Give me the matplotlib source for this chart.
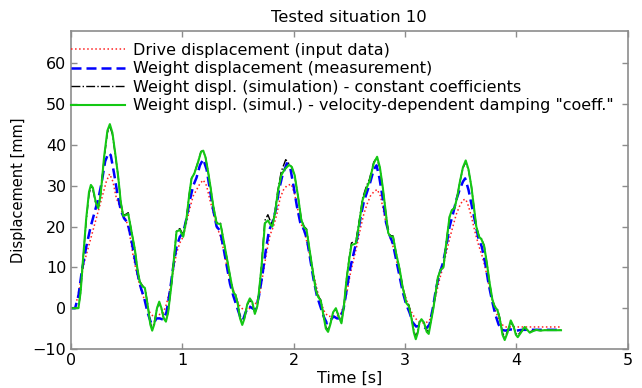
"""Displacement time histories for tested situation 10."""

import matplotlib

matplotlib.use("Agg")
import matplotlib.pyplot as plt  # noqa: E402

_AXIS = "#8c8c8c"

# drive displacement (input data)
t_drive = [0.00, 0.04, 0.08, 0.12, 0.16, 0.20, 0.24, 0.28, 0.32, 0.35, 0.38, 0.41, 0.44, 0.47,
           0.50, 0.53, 0.56, 0.59, 0.62, 0.65, 0.68, 0.71, 0.74, 0.77, 0.80, 0.83, 0.86, 0.89,
           0.92, 0.95, 0.98, 1.01, 1.04, 1.07, 1.10, 1.13, 1.16, 1.19, 1.22, 1.25, 1.28, 1.31,
           1.34, 1.37, 1.40, 1.43, 1.46, 1.49, 1.52, 1.55, 1.58, 1.61, 1.64, 1.67, 1.70, 1.73,
           1.76, 1.79, 1.82, 1.85, 1.88, 1.91, 1.94, 1.98, 2.01, 2.04, 2.07, 2.10, 2.13, 2.16,
           2.19, 2.22, 2.25, 2.28, 2.31, 2.34, 2.38, 2.42, 2.45, 2.48, 2.51, 2.54, 2.57, 2.60,
           2.63, 2.66, 2.69, 2.72, 2.75, 2.78, 2.81, 2.84, 2.87, 2.90, 2.93, 2.96, 2.99, 3.02,
           3.05, 3.08, 3.11, 3.14, 3.18, 3.22, 3.25, 3.28, 3.31, 3.34, 3.37, 3.40, 3.43, 3.46,
           3.49, 3.52, 3.545, 3.57, 3.60, 3.63, 3.66, 3.69, 3.72, 3.75, 3.78, 3.81, 3.84, 3.87,
           3.90, 4.40]
y_drive = [0, 0, 5, 11, 15, 19, 23, 27, 31, 32.9, 31, 27, 25, 23,
           21.5, 18, 13, 9, 5.5, 3, 1, -1, -2, -2, -1.5, -1.2, 1, 4.5,
           9, 13.5, 16, 17.5, 21, 24.5, 27.5, 29, 30.5, 31.4, 30, 26.5, 23.5, 20,
           18, 14.6, 10.5, 7, 4.5, 2, 0.5, -0.4, -0.4, 0, 0.5, 1.5, 4, 9,
           14, 18, 20, 23, 27, 29, 30, 30.4, 28, 24, 20.5, 18.5, 15, 11,
           7, 3.5, 1, -1, -2, -2, -2.1, -1.5, 0.5, 4, 8.5, 12, 15.5, 19.5,
           23, 25.5, 27.5, 28.5, 29.1, 27.5, 23.5, 19.5, 17, 14.5, 11, 7.5, 4, 1.5,
           -0.5, -2, -3, -3.5, -3.7, -3, 0, 3.5, 7, 10, 13.5, 17, 20, 23,
           25, 26.5, 26.7, 25, 22, 18.5, 15.5, 13, 10, 6, 2.5, -0.5, -2.5, -4,
           -4.6, -4.6]

# weight displacement (measurement)
t_meas = [0.00, 0.04, 0.07, 0.10, 0.14, 0.18, 0.22, 0.25, 0.28, 0.31, 0.34, 0.36, 0.39, 0.42,
          0.45, 0.48, 0.51, 0.54, 0.57, 0.60, 0.63, 0.66, 0.69, 0.72, 0.745, 0.77, 0.80, 0.83,
          0.86, 0.89, 0.92, 0.95, 0.98, 1.01, 1.04, 1.07, 1.10, 1.13, 1.16, 1.19, 1.22, 1.25,
          1.28, 1.31, 1.34, 1.37, 1.40, 1.43, 1.46, 1.49, 1.52, 1.545, 1.57, 1.60, 1.63, 1.66,
          1.69, 1.72, 1.75, 1.78, 1.81, 1.84, 1.87, 1.90, 1.94, 1.97, 2.00, 2.03, 2.06, 2.09,
          2.12, 2.15, 2.18, 2.21, 2.24, 2.27, 2.30, 2.33, 2.36, 2.39, 2.42, 2.45, 2.48, 2.51,
          2.54, 2.57, 2.60, 2.63, 2.66, 2.69, 2.72, 2.745, 2.77, 2.80, 2.83, 2.86, 2.89, 2.92,
          2.95, 2.98, 3.01, 3.04, 3.07, 3.10, 3.13, 3.16, 3.19, 3.22, 3.25, 3.28, 3.31, 3.34,
          3.37, 3.40, 3.43, 3.46, 3.49, 3.52, 3.54, 3.57, 3.60, 3.63, 3.66, 3.69, 3.72, 3.75,
          3.78, 3.81, 3.84, 3.87, 3.90, 3.95, 4.00, 4.05, 4.10, 4.40]
y_meas = [0, 0, 3, 9, 15, 20, 24, 27, 31, 36, 38, 37.5, 33, 28,
          24, 22, 21, 17.5, 13, 8.5, 5, 2.5, -1, -3.5, -3.8, -2.5, -2.5, -2.8,
          -1, 4, 10, 15, 17.5, 18.5, 22, 26.5, 30, 32, 35, 36.5, 34, 29,
          24, 20, 19, 15, 10.5, 6, 3, 0.5, -2, -3, -1, 0.5, 0, -0.5,
          3, 8, 14, 19, 21, 24, 29, 32.5, 35.5, 34.5, 30, 25, 21, 19.5,
          17, 12, 7, 3, 0.5, -2, -3.7, -3, -2, -2.5, -2.5, 0, 5, 10,
          13.5, 17, 22, 26, 28.5, 31, 34, 35, 32, 27, 21, 18, 16, 12,
          8, 4, 1, -1, -3.5, -4.5, -4.3, -4.5, -5, -4, 0, 5, 8.5, 11,
          15, 20, 23, 26.5, 29, 31, 31.8, 29, 25, 21, 17, 15, 11, 6,
          2, -1.5, -4, -5.3, -5.5, -5.2, -5.5, -5.3, -5.3, -5.3]

# weight displacement, simulation with constant coefficients
t_const = [0.00, 0.07, 0.09, 0.113, 0.14, 0.165, 0.182, 0.20, 0.225, 0.248, 0.27, 0.30, 0.33,
           0.352, 0.375, 0.40, 0.427, 0.45, 0.472, 0.495, 0.517, 0.545, 0.577, 0.60, 0.62,
           0.645, 0.666, 0.69, 0.715, 0.732, 0.75, 0.775, 0.795, 0.815, 0.835, 0.855, 0.875,
           0.906, 0.93, 0.95, 0.98, 1.01, 1.04, 1.065, 1.085, 1.11, 1.14, 1.17, 1.19, 1.21,
           1.23, 1.25, 1.28, 1.31, 1.345, 1.37, 1.40, 1.43, 1.458, 1.48, 1.50, 1.52, 1.54,
           1.56, 1.585, 1.608, 1.63, 1.653, 1.675, 1.69, 1.713, 1.73, 1.743, 1.77, 1.79, 1.81,
           1.835, 1.86, 1.89, 1.93, 1.96, 1.985, 2.01, 2.04, 2.07, 2.095, 2.117, 2.14, 2.176,
           2.20, 2.22, 2.245, 2.27, 2.29, 2.31, 2.33, 2.355, 2.38, 2.405, 2.43, 2.45, 2.475,
           2.50, 2.52, 2.545, 2.56, 2.59, 2.62, 2.655, 2.68, 2.72, 2.745, 2.775, 2.80, 2.825,
           2.85, 2.87, 2.893, 2.92, 2.953, 2.98, 3.013, 3.035, 3.055, 3.08, 3.097, 3.115, 3.13,
           3.148, 3.17, 3.195, 3.213, 3.235, 3.255, 3.27, 3.295, 3.32, 3.345, 3.37, 3.40, 3.42,
           3.445, 3.47, 3.49, 3.52, 3.545, 3.57, 3.596, 3.62, 3.64, 3.665, 3.686, 3.71, 3.735,
           3.76, 3.785, 3.805, 3.83, 3.85, 3.875, 3.895, 3.92, 3.949, 3.975, 3.995, 4.012,
           4.04, 4.074, 4.10, 4.12, 4.15, 4.18, 4.21, 4.25, 4.40]
y_const = [0, 0, 4, 12.4, 21.5, 28, 29.6, 29, 25.8, 24.6, 28, 36.5, 43,
           44.6, 42.6, 37.8, 32.2, 26, 22.8, 23, 23.4, 19, 14.3, 9.5, 6.6,
           5.5, 5.1, 1.2, -3.6, -5, -3.6, 0, 1.3, -0.2, -2.4, -3.1, -1,
           6.1, 13, 18.9, 19.5, 18, 22.2, 28, 31.8, 33, 35.6, 38.4, 38.6, 37,
           34, 30.6, 25, 21, 20.8, 17, 12.6, 8, 4.2, 3.4, 1.2, -2.2, -3.7,
           -2.3, 0.8, 2, 1.2, -1.2, 0.6, 4, 10.6, 17, 21.5, 22.9, 21.5, 20.4,
           24, 29, 33.5, 36.4, 35.4, 34.5, 32.4, 27.5, 21.8, 20, 19.4, 15, 8.6,
           4.8, 3, 2, -1.8, -4.6, -5.4, -3.8, -1, -0.3, -1.8, -3.4, 0, 7,
           12.4, 16, 16.3, 16.4, 21.5, 27, 30, 31.5, 35.8, 36.8, 34.4, 29.6, 24,
           18.6, 17.8, 17.7, 13.6, 9.5, 5.2, 1.6, 0.8, -1.8, -5.6, -7, -5.6, -3.4,
           -2.9, -3.5, -5.4, -5.8, -2.8, 0.2, 2.8, 7.5, 9.5, 10.2, 16, 22.4, 24,
           24.6, 27.5, 30.6, 34.3, 35.8, 33.8, 29.8, 24.5, 20, 17.6, 17, 15.4, 11,
           6.1, 2, 0.5, -0.3, -2.3, -6, -7.2, -5.7, -3.4, -4.6, -6.2, -6.6,
           -5.8, -4.9, -5.4, -5.8, -5.5, -5.3, -5.5, -5.4, -5.4]

# weight displacement, simulation with velocity-dependent damping coefficient
t_vel = [0.00, 0.07, 0.09, 0.113, 0.14, 0.165, 0.182, 0.20, 0.225, 0.248, 0.27, 0.30, 0.33,
         0.352, 0.375, 0.40, 0.427, 0.45, 0.472, 0.495, 0.517, 0.545, 0.577, 0.60, 0.62,
         0.645, 0.666, 0.69, 0.715, 0.732, 0.75, 0.775, 0.795, 0.815, 0.835, 0.855, 0.875,
         0.906, 0.93, 0.95, 0.98, 1.01, 1.04, 1.065, 1.085, 1.11, 1.14, 1.17, 1.19, 1.21,
         1.23, 1.25, 1.28, 1.31, 1.345, 1.37, 1.40, 1.43, 1.458, 1.48, 1.50, 1.52, 1.54,
         1.56, 1.585, 1.608, 1.63, 1.653, 1.675, 1.69, 1.713, 1.73, 1.743, 1.77, 1.79, 1.81,
         1.835, 1.86, 1.89, 1.92, 1.96, 1.985, 2.01, 2.04, 2.07, 2.095, 2.117, 2.14, 2.176,
         2.20, 2.22, 2.245, 2.27, 2.29, 2.31, 2.33, 2.355, 2.38, 2.405, 2.43, 2.45, 2.475,
         2.50, 2.52, 2.545, 2.56, 2.59, 2.62, 2.655, 2.68, 2.72, 2.75, 2.775, 2.80, 2.825,
         2.85, 2.87, 2.893, 2.92, 2.953, 2.98, 3.013, 3.035, 3.055, 3.08, 3.097, 3.115, 3.13,
         3.148, 3.17, 3.195, 3.213, 3.235, 3.255, 3.27, 3.295, 3.32, 3.345, 3.37, 3.40, 3.42,
         3.445, 3.47, 3.49, 3.52, 3.545, 3.57, 3.596, 3.62, 3.64, 3.665, 3.686, 3.71, 3.735,
         3.76, 3.785, 3.805, 3.83, 3.85, 3.875, 3.895, 3.92, 3.949, 3.975, 3.995, 4.012,
         4.04, 4.074, 4.10, 4.12, 4.15, 4.18, 4.21, 4.25, 4.40]
y_vel = [0, 0, 4, 12.6, 22, 28.5, 30.2, 29.5, 26, 24.5, 28, 37, 43.5,
         45.1, 43, 38, 32.2, 26, 22.6, 22.8, 23.1, 19, 14.3, 9.5, 6.5,
         5.3, 5.0, 1, -4, -5.5, -4, 0, 1.6, 0, -2.5, -3.3, -1,
         6.1, 13, 18.75, 19.2, 17.5, 22, 28, 31.8, 33, 35.5, 38.3, 38.6, 37,
         34, 30.6, 25, 20.8, 20.6, 17, 12.6, 8, 4.0, 3.2, 1, -2.5, -4.1,
         -2.5, 1, 2.4, 1.5, -1.4, 0.5, 4, 10.2, 16, 20.8, 21.5, 20.6, 20,
         23.5, 28.6, 32.6, 34, 35.1, 34.6, 32.6, 27.5, 21.6, 19.8, 19.2, 15, 8.5,
         4.5, 2.8, 1.8, -2, -5, -5.8, -4, -1, 0, -2, -3.7, 0, 6.9,
         12, 15.5, 15.7, 15.9, 21, 26.5, 29.4, 31, 35.5, 37.1, 34.5, 29.8, 24,
         18.4, 17.6, 17.5, 13.5, 9.4, 5, 1.2, 0.5, -2, -6, -7.6, -6, -3.5,
         -2.7, -3.5, -5.8, -6.3, -3, 0, 2.8, 7.5, 9.4, 10, 15.9, 22.4, 24,
         24.5, 27.5, 30.6, 34.5, 36.2, 34, 29.8, 24.5, 20, 17.5, 16.9, 15.3, 11,
         6.1, 2, 0.4, -0.5, -2.5, -6.5, -7.8, -6, -3, -4.5, -6.5, -7.1,
         -6, -4.6, -5.4, -6, -5.6, -5.3, -5.5, -5.4, -5.4]

labels = [
    "Drive displacement (input data)",
    "Weight displacement (measurement)",
    "Weight displ. (simulation) - constant coefficients",
    'Weight displ. (simul.) - velocity-dependent damping "coeff."',
]


def main() -> None:
    plt.rcParams.update({"font.family": ["DejaVu Sans"],
                         "font.size": 11.5, "text.color": "black",
                         "xtick.color": _AXIS, "ytick.color": _AXIS,
                         "xtick.labelcolor": "black", "ytick.labelcolor": "black"})
    fig = plt.figure(figsize=(6.42, 3.88), dpi=100)
    ax = fig.add_axes([0.110, 0.1005, 0.868, 0.8205])

    ax.plot(t_drive, y_drive, ":", color="#ff2020", lw=1.1, label=labels[0])
    ax.plot(t_meas, y_meas, "--", color="#0000ff", lw=1.8, dashes=(4, 2), label=labels[1])
    ax.plot(t_const, y_const, "-.", color="black", lw=1.0, label=labels[2])
    ax.plot(t_vel, y_vel, "-", color="#14c814", lw=1.5, label=labels[3])

    ax.set_xlim(0, 5)
    ax.set_ylim(-10, 68)
    ax.set_xticks([0, 1, 2, 3, 4, 5])
    ax.set_yticks([-10, 0, 10, 20, 30, 40, 50, 60])
    ax.tick_params(direction="in", length=4, width=1, top=True, right=True, pad=3)
    for s in ax.spines.values():
        s.set_color(_AXIS)
        s.set_linewidth(1.2)

    ax.set_title("Tested situation 10", fontsize=11.8, pad=6)
    ax.set_xlabel("Time [s]", labelpad=2)
    ax.set_ylabel("Displacement [mm]", fontsize=10.5, labelpad=5)

    ax.legend(loc="upper left", bbox_to_anchor=(0.0, 0.962), frameon=False,
              borderpad=0, borderaxespad=0, handlelength=3.4, handletextpad=0.5,
              labelspacing=0.22)

    fig.savefig("out.png", dpi=100)


if __name__ == "__main__":
    main()
